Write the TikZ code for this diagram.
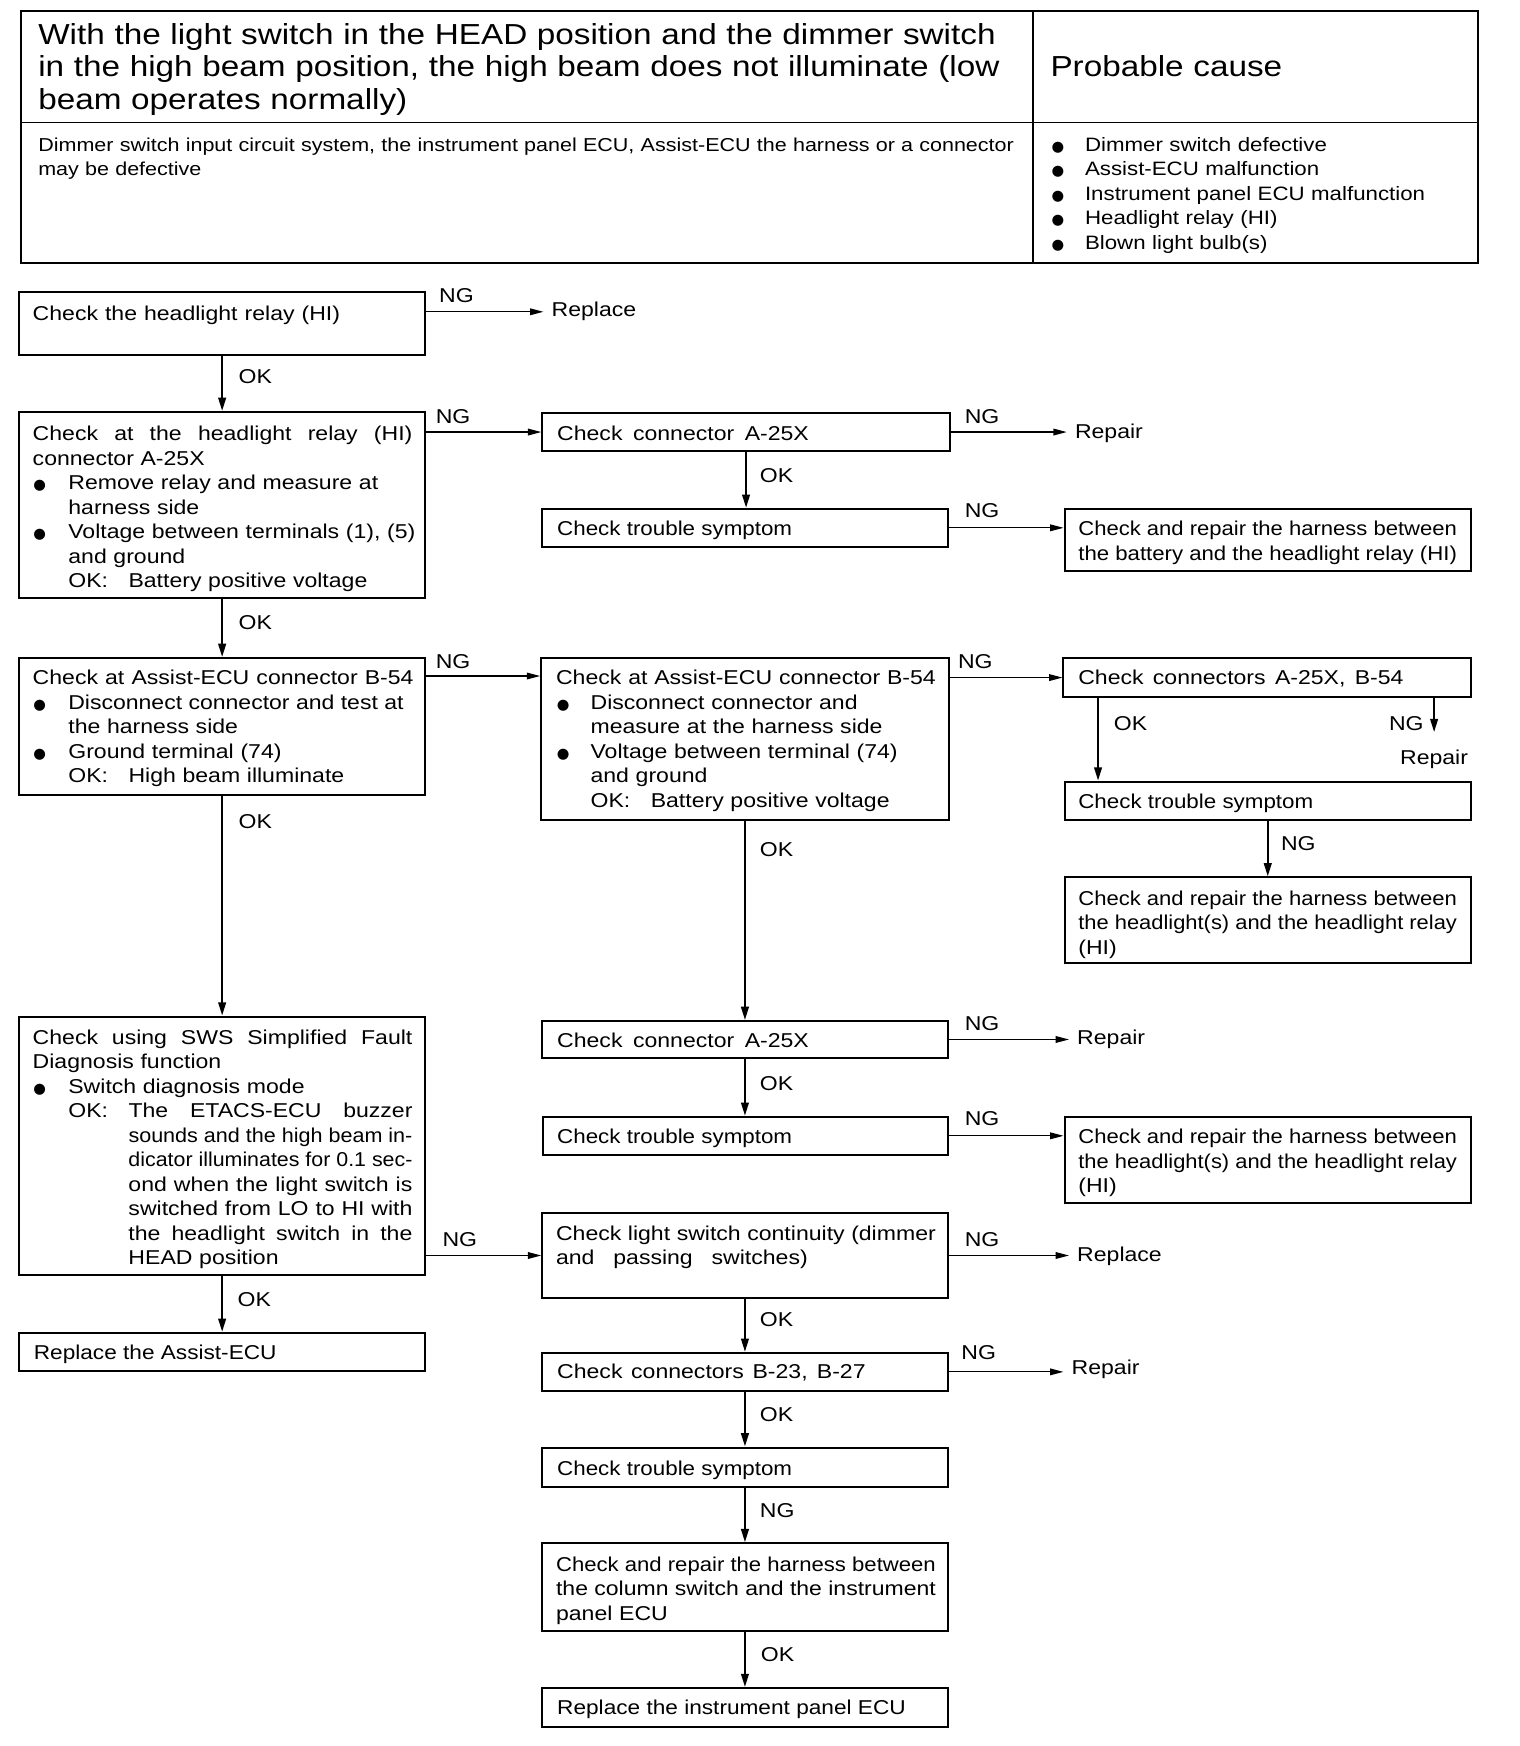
\documentclass[tikz,border=0pt]{standalone}
\usepackage{fontspec}
\setmainfont{Liberation Sans}[FakeStretch=1.15]
\newfontfamily\dvs{DejaVu Sans}
\usepackage{graphicx}
\usetikzlibrary{arrows.meta,fit,calc}
\newdimen\un \un=0.5pt
\newsavebox\jlbox
\newcommand\jl[2]{\sbox\jlbox{\spaceskip=0pt\xspaceskip=0pt #2}\ifdim\wd\jlbox>#1\un\relax\resizebox{#1\un}{\height}{\usebox\jlbox}\else\makebox[#1\un][s]{\spaceskip=0pt\xspaceskip=0pt #2}\fi}
\newcommand\bdotmark{{\dvs\fontsize{6.5}{7}\selectfont ●}}
\newcommand\bl{\makebox[16pt][l]{\hspace{0.3pt}\bdotmark}}
\newcommand\blb{\makebox[15.5pt][l]{\hspace{0.3pt}\bdotmark}}
\newcommand\bh{\makebox[15pt][l]{\bdotmark}}
\newcommand\okc{\makebox[27pt][l]{OK:}}
\newcommand\bx[5]{\node[box, fit={(#2,#3)(#4,#5)}] (#1) {};}
\begin{document}
\begin{tikzpicture}[x=0.5pt,y=-0.5pt,
  box/.style={draw, line width=0.9pt, inner sep=0pt},
  txt/.style={anchor=base west, inner sep=0pt, align=left, text width=178pt, yshift=-1pt, font=\fontsize{9}{11}\selectfont},
  lbl/.style={anchor=base west, inner sep=0pt, yshift=-1pt, font=\fontsize{9}{11}\selectfont},
  res/.style={anchor=west, inner xsep=3.5pt, inner ysep=0pt, font=\fontsize{9}{11}\selectfont},
  arr/.style={-{Triangle[length=6pt,width=3pt]}, line width=0.55pt},
  varr/.style={-{Triangle[length=6pt,width=3.4pt]}, line width=1pt}]
\useasboundingbox (0,0) rectangle (1365,1568);
% header table
\draw[line width=0.9pt] (19,10) rectangle (1327,236);
\draw[line width=0.8pt] (928,10) -- (928,236);
\draw[line width=0.8pt] (19,110) -- (1327,110);
\node[txt, text width=444pt, font=\fontsize{13}{14.5}\selectfont] (title) at (34,38)
  {With the light switch in the HEAD position and the dimmer switch\\in the high beam position, the high beam does not illuminate (low\\beam operates normally)};
\node[txt, text width=180pt, font=\fontsize{13}{14.5}\selectfont] (pc) at (943,67) {Probable cause};
\node[txt, text width=444pt, font=\fontsize{8.4}{11}\selectfont] (desc) at (34,134)
  {Dimmer switch input circuit system, the instrument panel ECU, Assist-ECU the harness or a connector\\may be defective};
\node[txt, text width=180pt, font=\fontsize{8.7}{11}\selectfont] (causes) at (944,134)
  {\bh Dimmer switch defective\\\bh Assist-ECU malfunction\\\bh Instrument panel ECU malfunction\\\bh Headlight relay (HI)\\\bh Blown light bulb(s)};
% boxes
\bx{b1}{17}{262}{382}{319}
\bx{b2}{17}{370}{382}{537}
\bx{b3}{487}{371}{853}{405}
\bx{b4}{487}{457}{851}{491}
\bx{b5}{956}{457}{1321}{513}
\bx{b6}{17}{591}{382}{714}
\bx{b7}{486}{591}{852}{736}
\bx{b8}{955}{591}{1321}{626}
\bx{b9}{956}{702}{1321}{736}
\bx{b10}{956}{788}{1321}{865}
\bx{b11}{17}{913}{382}{1145}
\bx{b12}{17}{1197}{382}{1231}
\bx{b13}{487}{917}{851}{950}
\bx{b14}{488}{1003}{851}{1037}
\bx{b15}{956}{1003}{1321}{1080}
\bx{b16}{487}{1089}{851}{1166}
\bx{b17}{487}{1215}{851}{1249}
\bx{b18}{487}{1300}{851}{1335}
\bx{b19}{487}{1386}{851}{1465}
\bx{b20}{487}{1516}{851}{1551}
% box texts
\node[txt] (t1) at (29,286) {\jl{276}{Check the headlight relay (HI)}};
\node[txt] (t2) at (29,394) {\jl{341}{Check at the headlight relay (HI)}\\connector A-25X\\\bl Remove relay and measure at\\\hspace*{16pt}harness side\\\bl Voltage between terminals (1), (5)\\\hspace*{16pt}and ground\\\hspace*{16pt}\okc Battery positive voltage};
\node[txt] (t3) at (500,394) {\jl{226}{Check connector A-25X}};
\node[txt] (t4) at (500,479) {\jl{211}{Check trouble symptom}};
\node[txt] (t5) at (968,479) {\jl{340}{Check and repair the harness between}\\\jl{340}{the battery and the headlight relay (HI)}};
\node[txt] (t6) at (29,613) {\jl{342}{Check at Assist-ECU connector B-54}\\\bl\jl{301}{Disconnect connector and test at}\\\hspace*{16pt}the harness side\\\bl Ground terminal (74)\\\hspace*{16pt}\okc High beam illuminate};
\node[txt] (t7) at (499,613) {\jl{341}{Check at Assist-ECU connector B-54}\\\blb Disconnect connector and\\\hspace*{15.5pt}measure at the harness side\\\blb Voltage between terminal (74)\\\hspace*{15.5pt}and ground\\\hspace*{15.5pt}\okc Battery positive voltage};
\node[txt] (t8) at (968,613) {\jl{292}{Check connectors A-25X, B-54}};
\node[txt] (t9) at (968,724) {\jl{211}{Check trouble symptom}};
\node[txt] (t10) at (968,811) {\jl{340}{Check and repair the harness between}\\\jl{340}{the headlight(s) and the headlight relay}\\(HI)};
\node[txt] (t11) at (29,936) {\jl{341}{Check using SWS Simplified Fault}\\Diagnosis function\\\bl Switch diagnosis mode\\\hspace*{16pt}\okc\jl{255}{The ETACS-ECU buzzer}\\\hspace*{43pt}\jl{255}{sounds and the high beam in-}\\\hspace*{43pt}\jl{255}{dicator illuminates for 0.1 sec-}\\\hspace*{43pt}\jl{255}{ond when the light switch is}\\\hspace*{43pt}\jl{255}{switched from LO to HI with}\\\hspace*{43pt}\jl{255}{the headlight switch in the}\\\hspace*{43pt}HEAD position};
\node[txt] (t12) at (30,1219) {\jl{218}{Replace the Assist-ECU}};
\node[txt] (t13) at (500,939) {\jl{226}{Check connector A-25X}};
\node[txt] (t14) at (500,1025) {\jl{211}{Check trouble symptom}};
\node[txt] (t15) at (968,1025) {\jl{340}{Check and repair the harness between}\\\jl{340}{the headlight(s) and the headlight relay}\\(HI)};
\node[txt] (t16) at (499,1112) {\jl{341}{Check light switch continuity (dimmer}\\\jl{226}{and passing switches)}};
\node[txt] (t17) at (500,1236) {\jl{277}{Check connectors B-23, B-27}};
\node[txt] (t18) at (500,1323) {\jl{211}{Check trouble symptom}};
\node[txt] (t19) at (499,1409) {\jl{341}{Check and repair the harness between}\\\jl{341}{the column switch and the instrument}\\panel ECU};
\node[txt] (t20) at (500,1538) {\jl{313}{Replace the instrument panel ECU}};
% result texts
\node[res] (r1) at (488,280) {Replace};
\node[res] (r2) at (958,389) {Repair};
\node[lbl] (r3) at (1257,685) {Repair};
\node[res] (r4) at (960,933) {Repair};
\node[res] (r5) at (960,1128) {Replace};
\node[res] (r6) at (955,1230) {Repair};
% labels
\node[lbl] (n1) at (394,270) {NG};
\node[lbl] (o1) at (214,342) {OK};
\node[lbl] (n2) at (391,378) {NG};
\node[lbl] (n3) at (866,378) {NG};
\node[lbl] (o2) at (682,431) {OK};
\node[lbl] (n4) at (866,463) {NG};
\node[lbl] (o3) at (214,563) {OK};
\node[lbl] (n5) at (391,598) {NG};
\node[lbl] (n6) at (860,598) {NG};
\node[lbl] (o4) at (1000,654) {OK};
\node[lbl] (n7) at (1247,654) {NG};
\node[lbl] (n8) at (1150,762) {NG};
\node[lbl] (o5) at (214,742) {OK};
\node[lbl] (o6) at (682,767) {OK};
\node[lbl] (n9) at (866,923) {NG};
\node[lbl] (o7) at (682,977) {OK};
\node[lbl] (n10) at (866,1009) {NG};
\node[lbl] (n11) at (397,1117) {NG};
\node[lbl] (n12) at (866,1117) {NG};
\node[lbl] (o8) at (213,1171) {OK};
\node[lbl] (o9) at (682,1189) {OK};
\node[lbl] (n13) at (863,1219) {NG};
\node[lbl] (o10) at (682,1275) {OK};
\node[lbl] (n14) at (682,1361) {NG};
\node[lbl] (o11) at (683,1490) {OK};
% connectors
\draw[arr] (b1.east |- r1.west) -- (r1.west);
\draw[varr] (b1.south) -- (b2.north);
\draw[arr] (b3.west -| b2.east) -- (b3.west);
\draw[arr] (b3.east) -- (b3.east -| r2.west);
\draw[varr] (b3.south) -- (b3.south |- b4.north);
\draw[arr] (b4.east) -- (b4.east -| b5.west);
\draw[varr] (b2.south) -- (b6.north);
\draw[arr] ([yshift=-8.5pt]b6.north east) -- ([yshift=-8.5pt]b6.north east -| b7.west);
\draw[arr] (b8.west -| b7.east) -- (b8.west);
\draw[varr] ([xshift=16pt]b8.south west) -- ([xshift=16pt]b8.south west |- b9.north);
\draw[varr, shorten >=8pt] (b8.south -| r3.north) -- (r3.north);
\draw[varr] (b9.south) -- (b10.north);
\draw[varr] (b6.south) -- (b11.north);
\draw[varr] (b7.south) -- (b7.south |- b13.north);
\draw[arr] (b13.east) -- (b13.east -| r4.west);
\draw[varr] (b13.south) -- (b13.south |- b14.north);
\draw[arr] (b14.east) -- (b14.east -| b15.west);
\draw[arr] (b16.west -| b11.east) -- (b16.west);
\draw[varr] (b11.south) -- (b12.north);
\draw[arr] (b16.east) -- (b16.east -| r5.west);
\draw[varr] (b16.south) -- (b16.south |- b17.north);
\draw[arr] (b17.east) -- (b17.east -| r6.west);
\draw[varr] (b17.south) -- (b17.south |- b18.north);
\draw[varr] (b18.south) -- (b18.south |- b19.north);
\draw[varr] (b19.south) -- (b19.south |- b20.north);
\end{tikzpicture}
\end{document}
